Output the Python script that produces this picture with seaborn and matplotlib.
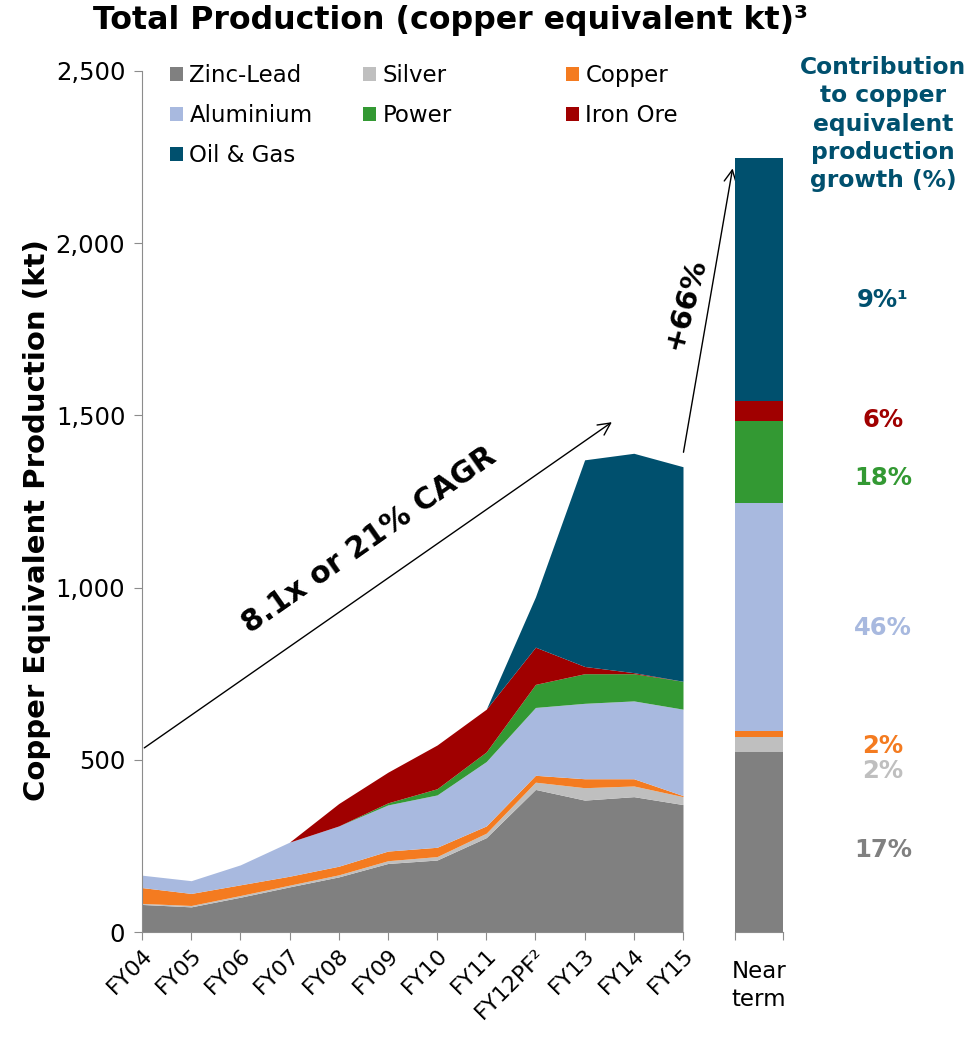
import numpy as np
import pandas as pd
import seaborn as sns
import matplotlib
matplotlib.use("Agg")
import matplotlib.pyplot as plt
from matplotlib.patches import Patch
from matplotlib.transforms import blended_transform_factory

# data (copper equivalent kt)
years = ['FY04', 'FY05', 'FY06', 'FY07', 'FY08', 'FY09', 'FY10', 'FY11',
         'FY12PF²', 'FY13', 'FY14', 'FY15']
zinc_lead = [80, 73, 101, 131, 160, 199, 209, 274, 414, 383, 393, 370]
silver    = [3, 4, 5, 5, 6, 8, 10, 13, 21, 36, 31, 23]
copper    = [46, 35, 31, 26, 25, 28, 27, 21, 20, 26, 21, 3]
aluminium = [36, 37, 58, 99, 117, 134, 152, 187, 197, 219, 226, 251]
power     = [0, 0, 0, 0, 0, 6, 18, 28, 67, 86, 79, 81]
iron_ore  = [0, 0, 0, 0, 65, 89, 127, 124, 108, 21, 3, 0]
oil_gas   = [0, 0, 0, 0, 0, 0, 0, 0, 146, 600, 637, 623]

near_term = {'Zinc-Lead': 524, 'Silver': 42, 'Copper': 18, 'Aluminium': 661,
             'Power': 240, 'Iron Ore': 58, 'Oil & Gas': 703}
growth_pct = ['17%', '2%', '2%', '46%', '18%', '6%', '9%¹']

series = ['Zinc-Lead', 'Silver', 'Copper', 'Aluminium', 'Power', 'Iron Ore', 'Oil & Gas']
colors = ['#808080', '#BFBFBF', '#F47B20', '#A8B9DF', '#339933', '#A00000', '#00506E']

df = pd.DataFrame({'Zinc-Lead': zinc_lead, 'Silver': silver, 'Copper': copper,
                   'Aluminium': aluminium, 'Power': power, 'Iron Ore': iron_ore,
                   'Oil & Gas': oil_gas}, index=years)

sns.set_style('white')
plt.rcParams['font.family'] = ['DejaVu Sans']
plt.rcParams.update({'text.color': 'black', 'axes.labelcolor': 'black',
                     'xtick.labelcolor': 'black', 'ytick.labelcolor': 'black'})

fig = plt.figure(figsize=(9.72, 10.37), dpi=100)
ax = fig.add_axes([142/972, 105/1037, 541/972, 861/1037])
ax2 = fig.add_axes([735/972, 105/1037, 48/972, 861/1037])

x = np.arange(len(years))
ax.stackplot(x, [df[s].values for s in series], colors=colors, linewidth=0)
ax.set_xlim(0, len(years) - 1)
ax.set_ylim(0, 2500)
ax.set_xticks(x)
ax.set_xticklabels(years, rotation=45, ha='right', va='top', rotation_mode='anchor', fontsize=16)
ax.set_yticks(np.arange(0, 2501, 500))
ax.set_yticklabels(['0', '500', '1,000', '1,500', '2,000', '2,500'], fontsize=17.5)
for s in ['top', 'right']:
    ax.spines[s].set_visible(False)
for s in ['left', 'bottom']:
    ax.spines[s].set_color('#8C8C8C')
ax.tick_params(axis='both', direction='out', length=6, color='#8C8C8C', left=True, bottom=True)
ax.tick_params(axis='y', pad=6)
ax.set_ylabel('Copper Equivalent Production (kt)', fontsize=21, fontweight='bold')
ax.yaxis.set_label_coords(-0.168, 0.478)

# near term stacked bar (cumulative, tallest first)
cum = np.cumsum([near_term[s] for s in series])
for i in range(len(series) - 1, -1, -1):
    sns.barplot(ax=ax2, x=['Near term'], y=[cum[i]], color=colors[i], width=1.0,
                linewidth=0, saturation=1)
ax2.set_xlim(-0.5, 0.5)
ax2.set_ylim(0, 2500)
ax2.set_xticks([-0.5, 0.5])
ax2.set_xticklabels([])
ax2.set_yticks([])
ax2.set_xlabel('')
ax2.set_ylabel('')
for s in ['top', 'right', 'left']:
    ax2.spines[s].set_visible(False)
ax2.spines['bottom'].set_color('#8C8C8C')
ax2.tick_params(axis='x', direction='out', length=6, color='#8C8C8C', bottom=True)
ax2.text(0.5, -0.033, 'Near\nterm', transform=ax2.transAxes, ha='center', va='top',
         fontsize=16.5, linespacing=1.25)

# legend in three columns
handles = {s: Patch(facecolor=c, edgecolor='none') for s, c in zip(series, colors)}
cols = [(['Zinc-Lead', 'Aluminium', 'Oil & Gas'], 170), (['Silver', 'Power'], 363),
        (['Copper', 'Iron Ore'], 566)]
for names, px in cols:
    leg = fig.legend([handles[n] for n in names], names, loc='upper left',
                     bbox_to_anchor=(px/972, 1 - 64/1037), frameon=False, fontsize=16.5,
                     handlelength=0.55, handleheight=0.55, handletextpad=0.3,
                     labelspacing=0.74, borderpad=0, borderaxespad=0)

# title and side heading
fig.text(0.463, 1 - 21/1037, 'Total Production (copper equivalent kt)³', ha='center',
         va='center', fontsize=22.8, fontweight='bold')
fig.text(883/972, 1 - 124/1037, 'Contribution\nto copper\nequivalent\nproduction\ngrowth (%)',
         ha='center', va='center', fontsize=16.8, fontweight='bold', color='#00506E',
         linespacing=1.3)

# growth contribution labels
pct_y = [238, 467, 540, 883, 1318, 1487, 1835]
tr = blended_transform_factory(fig.transFigure, ax2.transData)
for lab, yy, c in zip(growth_pct, pct_y, colors):
    ax2.text(883/972, yy, lab, transform=tr, ha='center', va='center', fontsize=17.5,
             fontweight='bold', color=c, clip_on=False)

# arrows
ax.annotate('', xy=(9.6, 1485), xytext=(0, 530),
            arrowprops=dict(arrowstyle='->', lw=1, color='black', mutation_scale=22),
            annotation_clip=False)
ax.text(4.62, 1137, '8.1x or 21% CAGR', rotation=35, ha='center', va='center',
        fontsize=21.5, fontweight='bold', rotation_mode='anchor')
ax.annotate('', xy=(-0.54, 2225), xycoords=ax2.transData, xytext=(11, 1385),
            textcoords=ax.transData,
            arrowprops=dict(arrowstyle='->', lw=1, color='black', mutation_scale=22),
            annotation_clip=False)
ax.text(11.04, 1826, '+66%', rotation=75, ha='center', va='center', fontsize=21,
        fontweight='bold', rotation_mode='anchor', clip_on=False)

fig.savefig('out.png', dpi=100)
